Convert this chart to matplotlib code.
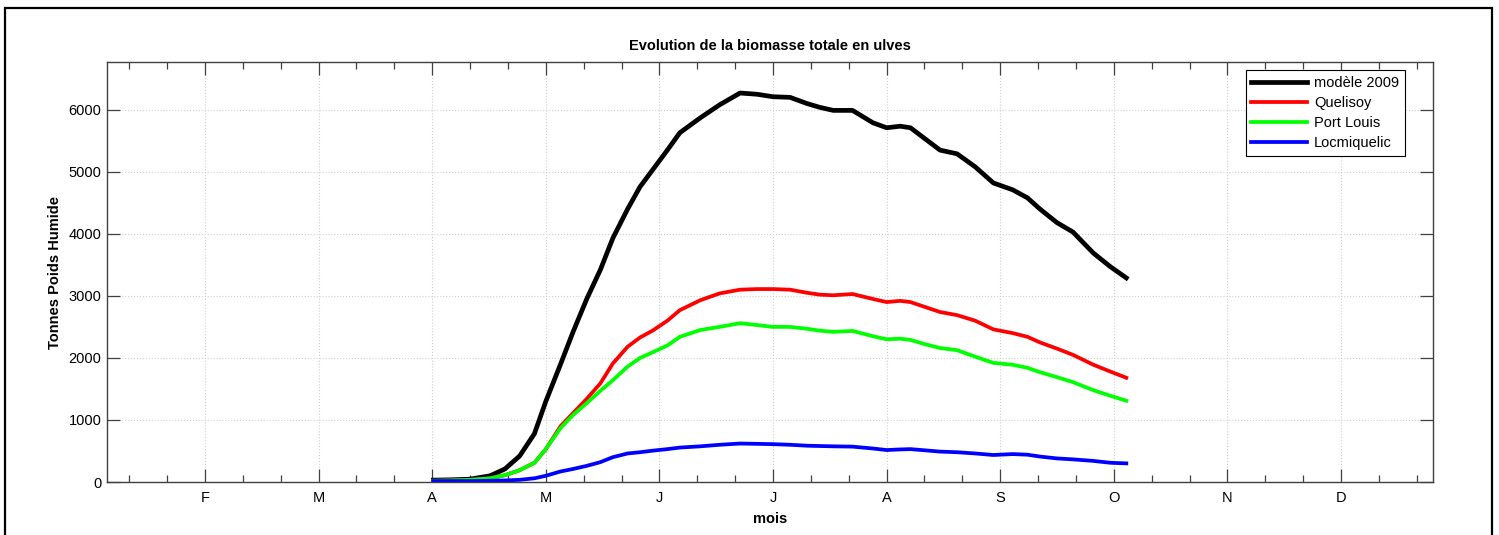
import matplotlib
matplotlib.use('Agg')
import matplotlib.pyplot as plt
from matplotlib.ticker import MultipleLocator, FixedLocator
from matplotlib.patches import Rectangle

plt.rcParams['font.family'] = ['Liberation Sans', 'DejaVu Sans']

# Données (x en mois, Jan = 0)
mois = [3.01, 3.16, 3.33, 3.51, 3.64, 3.77, 3.90, 4.00, 4.13, 4.24,
        4.36, 4.48, 4.59, 4.72, 4.83, 4.94, 5.07, 5.18, 5.36, 5.53,
        5.71, 5.86, 6.00, 6.15, 6.30, 6.41, 6.53, 6.70, 6.88, 7.00,
        7.12, 7.21, 7.34, 7.47, 7.62, 7.78, 7.94, 8.11, 8.24, 8.35,
        8.50, 8.64, 8.82, 8.97, 9.11]

modele_2009 = [30, 35, 45, 100, 210, 420, 780, 1300, 1900, 2420,
               2950, 3420, 3930, 4400, 4760, 5030, 5350, 5630, 5870, 6080,
               6270, 6250, 6210, 6200, 6100, 6040, 5990, 5990, 5790, 5710,
               5735, 5710, 5530, 5350, 5290, 5080, 4820, 4710, 4580, 4400,
               4180, 4030, 3690, 3470, 3290]

quelisoy = [20, 25, 35, 60, 110, 190, 310, 530, 900, 1110,
            1340, 1590, 1910, 2180, 2330, 2440, 2600, 2770, 2930, 3040,
            3100, 3110, 3110, 3100, 3050, 3020, 3010, 3030, 2950, 2900,
            2920, 2900, 2820, 2740, 2690, 2600, 2460, 2400, 2340, 2250,
            2150, 2050, 1890, 1780, 1680]

port_louis = [20, 25, 35, 60, 110, 190, 310, 530, 870, 1080,
              1270, 1470, 1640, 1860, 2000, 2090, 2200, 2340, 2450, 2500,
              2560, 2530, 2500, 2500, 2470, 2440, 2420, 2435, 2350, 2300,
              2310, 2290, 2220, 2160, 2125, 2020, 1920, 1890, 1840, 1770,
              1690, 1610, 1480, 1390, 1310]

locmiquelic = [15, 15, 15, 20, 25, 35, 60, 100, 170, 210,
               260, 320, 400, 460, 480, 505, 530, 555, 575, 600,
               620, 615, 610, 600, 585, 580, 575, 570, 540, 515,
               525, 530, 510, 490, 480, 460, 435, 450, 440, 410,
               380, 365, 340, 310, 300]

mois_ticks = [1, 2, 3, 4, 5, 6, 7, 8, 9, 10, 11]
mois_labels = ['F', 'M', 'A', 'M', 'J', 'J', 'A', 'S', 'O', 'N', 'D']
y_ticks = [0, 1000, 2000, 3000, 4000, 5000, 6000]

fig = plt.figure(figsize=(14.99, 5.35), dpi=100)
ax = fig.add_axes([107 / 1499, 1 - 482 / 535, 1326 / 1499, 420 / 535])

ax.plot(mois, modele_2009, color='black', lw=3.4, label='modèle 2009')
ax.plot(mois, quelisoy, color='#ff0000', lw=2.7, label='Quelisoy')
ax.plot(mois, port_louis, color='#00ff00', lw=2.7, label='Port Louis')
ax.plot(mois, locmiquelic, color='#0000ff', lw=2.7, label='Locmiquelic')

ax.set_xlim(0.137, 11.81)
ax.set_ylim(0, 6770)
ax.xaxis.set_major_locator(FixedLocator(mois_ticks))
ax.set_xticklabels(mois_labels)
ax.xaxis.set_minor_locator(MultipleLocator(1 / 3))
ax.set_yticks(y_ticks)

ax.tick_params(which='both', direction='in', top=True, right=True,
               labelsize=10.5, color='#404040')
ax.tick_params(which='major', length=9.4, width=0.9)
ax.tick_params(which='minor', length=5, width=0.9)
ax.tick_params(axis='x', pad=6.5)
ax.tick_params(axis='y', pad=4)
for s in ax.spines.values():
    s.set_color('#404040')
    s.set_linewidth(1.0)

ax.grid(True, which='major', linestyle=':', color='#cfcfcf', lw=0.8)

ax.set_title('Evolution de la biomasse totale en ulves', fontsize=10.5,
             fontweight='bold', pad=9)
ax.set_xlabel('mois', fontsize=10.5, fontweight='bold', labelpad=5)
ax.set_ylabel('Tonnes Poids Humide', fontsize=10.5, fontweight='bold', labelpad=5)

leg = ax.legend(loc='upper right', bbox_to_anchor=(0.979, 0.981), borderaxespad=0,
                fontsize=10.5, fancybox=False, framealpha=1, handlelength=3.8,
                labelspacing=0.42, borderpad=0.4, handletextpad=0.5)
leg.get_frame().set_edgecolor('black')
leg.get_frame().set_linewidth(0.8)

# cadre autour de la figure
fig.patches.append(Rectangle((5 / 1499, -0.05), 1487 / 1499, 1.05 - 8 / 535,
                             transform=fig.transFigure, fill=False,
                             edgecolor='black', lw=1.6))

plt.savefig('out.png', dpi=100)
